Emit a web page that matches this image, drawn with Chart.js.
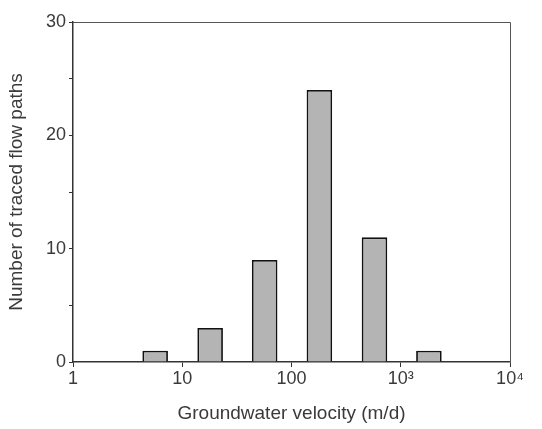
<!DOCTYPE html>
<html>
<head>
<meta charset="utf-8">
<script src="https://cdn.jsdelivr.net/npm/chart.js@4"></script>
<style>
  html, body { margin: 0; padding: 0; background: #fff; }
  #wrap { width: 542px; height: 429px; }
</style>
</head>
<body>
<div id="wrap"><canvas id="velocity-chart"></canvas></div>
<script>
// bin centres (m/d, geometric middle of each half-decade bin) and counts
const binCenters = [5.65, 18, 56.8, 180, 575, 1810];
const flowPathCounts = [1, 3, 9, 24, 11, 1];
const xTickValues = [1, 10, 100, 1000, 10000];
const xTickLabels = ["1", "10", "100", "10\u00b3", "10\u2074"];

const frameBox = {
  id: "frameBox",
  afterDraw(chart) {
    const { ctx, chartArea: a } = chart;
    ctx.save();
    ctx.strokeStyle = "#555";
    ctx.lineWidth = 1;
    ctx.beginPath();
    ctx.moveTo(a.left, a.top + 0.5);
    ctx.lineTo(a.right + 0.5, a.top + 0.5);
    ctx.lineTo(a.right + 0.5, a.bottom);
    ctx.stroke();
    ctx.restore();
  }
};

document.addEventListener("DOMContentLoaded", () => {
  const ctx = document.getElementById("velocity-chart");
  new Chart(ctx, {
    type: "bar",
    data: {
      datasets: [{
        data: binCenters.map((v, i) => ({ x: v, y: flowPathCounts[i] })),
        backgroundColor: "#b4b4b4",
        borderColor: "#111",
        borderWidth: 1.8,
        categoryPercentage: 1,
        barPercentage: 0.47
      }]
    },
    options: {
      responsive: true,
      maintainAspectRatio: false,
      animation: false,
      layout: { padding: { top: 22, right: 32, left: 5, bottom: 0 } },
      plugins: { legend: { display: false }, tooltip: { enabled: false } },
      scales: {
        x: {
          type: "logarithmic",
          min: 1,
          max: 10000,
          offset: false,
          afterBuildTicks: s => { s.ticks = xTickValues.map(v => ({ value: v })); },
          afterFit: s => { s.height = 67; },
          ticks: {
            autoSkip: false,
            maxRotation: 0,
            color: "#3a3a3a",
            padding: 1,
            font: { family: "Liberation Sans, Arial, sans-serif", size: 18 },
            callback: (v, i) => xTickLabels[i]
          },
          grid: { drawOnChartArea: false, offset: false, tickLength: 5, color: "#333" },
          border: { color: "#333", width: 1.5 },
          title: {
            display: true,
            text: "Groundwater velocity (m/d)",
            color: "#3a3a3a",
            padding: { top: 6 },
            font: { family: "Liberation Sans, Arial, sans-serif", size: 19 }
          }
        },
        y: {
          min: 0,
          max: 30,
          afterFit: s => { s.width = 68; },
          ticks: {
            stepSize: 5,
            color: "#3a3a3a",
            padding: 3,
            font: { family: "Liberation Sans, Arial, sans-serif", size: 18 },
            callback: v => (v % 10 === 0 ? v : "")
          },
          grid: { drawOnChartArea: false, tickLength: 4, color: "#333" },
          border: { color: "#333", width: 1.5 },
          title: {
            display: true,
            text: "Number of traced flow paths",
            color: "#3a3a3a",
            padding: 0,
            font: { family: "Liberation Sans, Arial, sans-serif", size: 19 }
          }
        }
      }
    },
    plugins: [frameBox]
  });
});
</script>
</body>
</html>
